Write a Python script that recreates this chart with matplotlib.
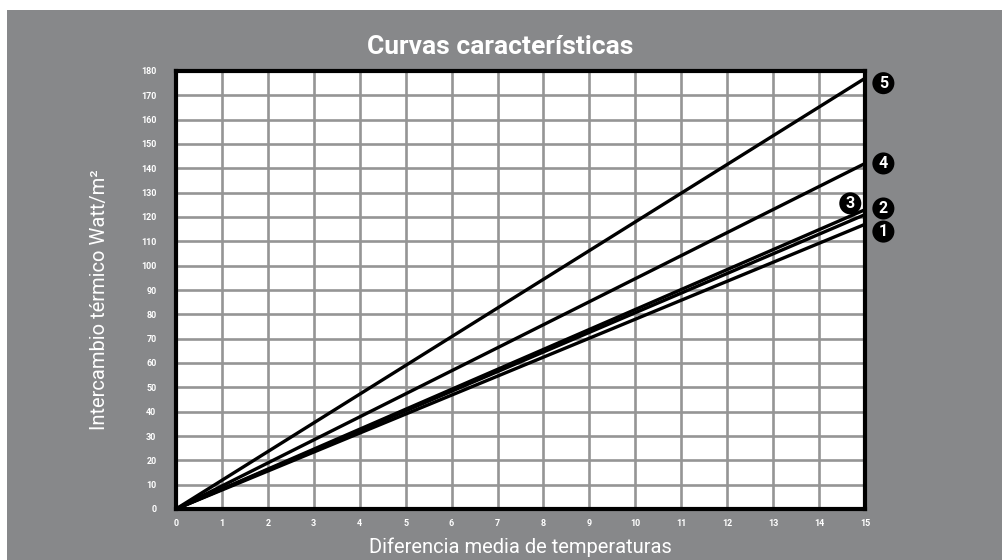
import matplotlib.pyplot as plt
from matplotlib.patches import Rectangle

# heat exchange at dT = 15 for each panel type (lines start at the origin)
curve_ids = ["1", "2", "3", "4", "5"]
dt_values = [0, 15]
end_values = [117, 121, 123, 142, 177]

x_ticks = list(range(0, 16))
y_ticks = list(range(0, 190, 10))

BG = "#87888a"
GRID = "#959595"

fig = plt.figure(figsize=(10.03, 5.6), dpi=100)
fig.patch.set_facecolor("white")
fig.patches.append(Rectangle((7 / 1003, 0), 1, 550 / 560, transform=fig.transFigure,
                             facecolor=BG, edgecolor="none", zorder=-5))

ax = fig.add_axes([176 / 1003, (560 - 509) / 560, (865 - 176) / 1003, (509 - 71) / 560])
ax.set_zorder(2)
ax.set_facecolor("white")
ax.set_xlim(0, 15)
ax.set_ylim(0, 180)

for xv in x_ticks[1:-1]:
    ax.axvline(xv, color=GRID, lw=1.9, zorder=1)
for yv in y_ticks[1:-1]:
    ax.axhline(yv, color=GRID, lw=1.9, zorder=1)

for cid, v in zip(curve_ids, end_values):
    ax.plot(dt_values, [0, v], color="black", lw=2.4, solid_capstyle="butt", zorder=3,
            clip_on=False)

for s in ax.spines.values():
    s.set_linewidth(3)
    s.set_color("black")
    s.set_zorder(4)

ax.set_xticks(x_ticks)
ax.set_yticks(y_ticks)
ax.tick_params(length=0, colors="white", labelsize=6.5)
ax.tick_params(axis="y", pad=14)
ax.tick_params(axis="x", pad=7)
for lab in ax.get_xticklabels() + ax.get_yticklabels():
    lab.set_fontweight("bold")
    lab.set_family("Roboto")

# numbered markers next to line ends
label_pos = {"1": (15.4, 114), "2": (15.4, 123.5), "3": (14.68, 125.6),
             "4": (15.4, 142), "5": (15.4, 175)}
for cid in curve_ids:
    lx, ly = label_pos[cid]
    ax.text(lx, ly, cid, ha="center", va="center", color="white", fontsize=11.5,
            fontweight="bold", family="Roboto", clip_on=False, zorder=6,
            bbox=dict(boxstyle="circle,pad=0.22", fc="black", ec="none"))

fig.text(500 / 1003, 1 - 47 / 560, "Curvas características", ha="center", va="center",
         color="white", fontsize=19, fontweight="bold", family="Roboto")
fig.text(520 / 1003, 1 - 547 / 560, "Diferencia media de temperaturas", ha="center",
         va="center", color="white", fontsize=14.5, family="Roboto")
fig.text(100 / 1003, 1 - 300 / 560, "Intercambio térmico Watt/m²", ha="center",
         va="center", rotation=90, color="white", fontsize=14.5, family="Roboto")

fig.savefig("out.png", dpi=100, facecolor=fig.get_facecolor())
